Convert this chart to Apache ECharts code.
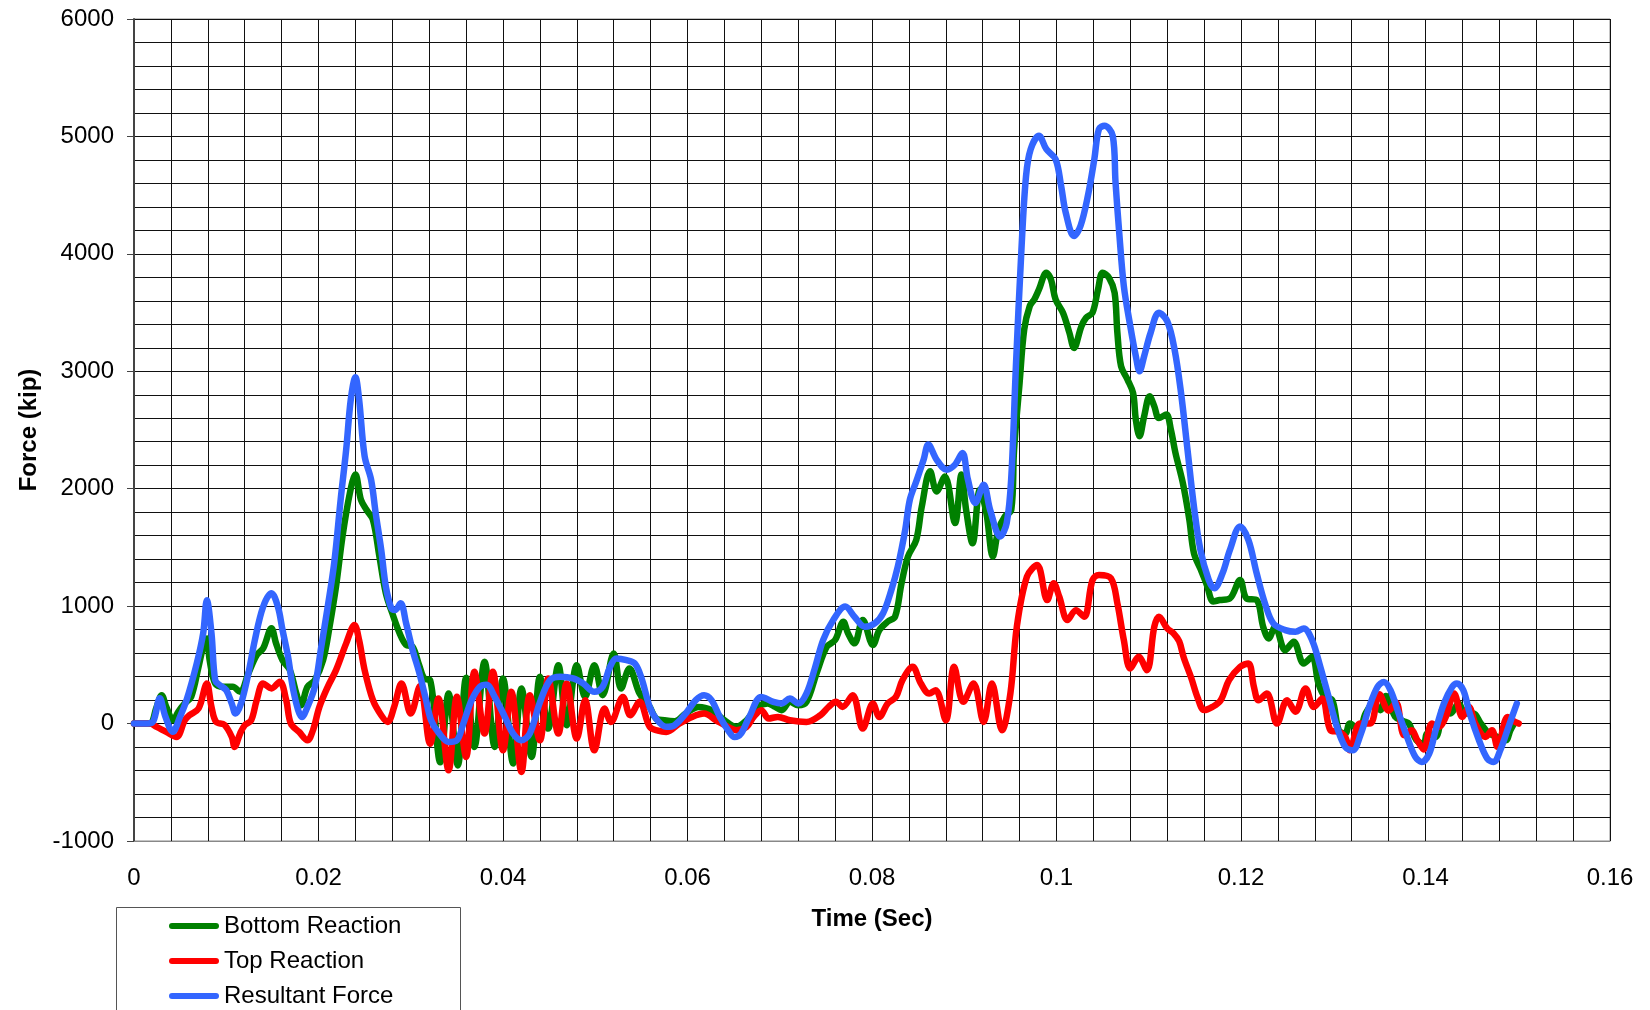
<!DOCTYPE html>
<html>
<head>
<meta charset="utf-8">
<script src="https://cdn.jsdelivr.net/npm/echarts@6/dist/echarts.min.js"></script>
<style>
html,body{margin:0;padding:0;background:#fff;}
#chart{width:1650px;height:1010px;}
</style>
</head>
<body>
<div id="chart"></div>
<script>
// ---- Data: [time (s), force (kip)] ----
const seriesNames = ['Bottom Reaction', 'Top Reaction', 'Resultant Force'];
const xTicks = [0, 0.02, 0.04, 0.06, 0.08, 0.1, 0.12, 0.14, 0.16];
const yTicks = [-1000, 0, 1000, 2000, 3000, 4000, 5000, 6000];

const bottomReaction = [
[0,0],[0.0017,0],[0.00245,142],[0.0030,242],[0.0035,142],[0.00425,28],[0.0048,100],[0.0055,171],[0.0062,228],[0.0070,484],[0.0075,654],[0.0079,725],[0.0082,540],[0.0088,341],[0.0097,313],[0.0107,313],[0.0115,270],[0.0124,427],[0.0133,583],[0.0140,640],[0.0149,811],[0.0154,683],[0.0161,540],[0.0169,455],[0.0176,256],[0.0181,156],[0.0188,313],[0.0196,370],[0.0205,540],[0.0212,825],[0.0219,1166],[0.0226,1593],[0.0234,1963],[0.0240,2120],[0.0246,1906],[0.0252,1821],[0.0259,1735],[0.0266,1423],[0.0273,1110],[0.0280,939],[0.0288,768],[0.0295,669],[0.0302,654],[0.0309,500],[0.0315,380],[0.0321,370],[0.0332,-330],[0.0341,256],[0.0351,-356],[0.0360,390],[0.0369,-199],[0.0380,526],[0.0391,-199],[0.0400,384],[0.0411,-341],[0.0420,299],[0.0431,-284],[0.0440,398],[0.0449,-43],[0.0460,497],[0.0469,-14],[0.0480,497],[0.0489,227],[0.0499,497],[0.0508,242],[0.0520,597],[0.0528,299],[0.0537,469],[0.0548,256],[0.0559,142],[0.0566,43],[0.0575,28],[0.0586,20],[0.0598,85],[0.0612,142],[0.0626,114],[0.0640,28],[0.0653,-28],[0.0664,28],[0.0676,142],[0.0687,171],[0.0695,142],[0.0702,114],[0.0711,185],[0.0720,156],[0.0729,185],[0.0740,430],[0.0751,654],[0.0760,711],[0.0769,868],[0.0774,768],[0.0781,683],[0.0790,882],[0.0801,669],[0.0808,797],[0.0817,868],[0.0825,910],[0.0832,1195],[0.0839,1423],[0.0848,1565],[0.0854,1849],[0.0863,2148],[0.0870,1977],[0.0879,2105],[0.0890,1707],[0.0897,2120],[0.0902,1821],[0.0909,1536],[0.0917,1992],[0.0924,1792],[0.0931,1422],[0.0937,1649],[0.0944,1763],[0.0951,1820],[0.0954,2332],[0.0960,2901],[0.0965,3356],[0.0971,3555],[0.0976,3612],[0.0981,3697],[0.0989,3839],[0.0994,3782],[0.0999,3612],[0.1007,3498],[0.1014,3327],[0.1019,3199],[0.1027,3384],[0.1032,3455],[0.1039,3498],[0.1045,3697],[0.1050,3839],[0.1057,3796],[0.1063,3669],[0.1066,3327],[0.1070,3043],[0.1077,2929],[0.1083,2815],[0.1086,2588],[0.1090,2446],[0.1095,2616],[0.1101,2787],[0.1106,2702],[0.1111,2602],[0.1119,2631],[0.1124,2502],[0.1129,2303],[0.1137,2047],[0.1144,1735],[0.1149,1450],[0.1157,1300],[0.1163,1180],[0.1170,1040],[0.1177,1052],[0.1188,1066],[0.1199,1223],[0.1206,1066],[0.1217,1052],[0.1224,825],[0.1230,725],[0.1237,825],[0.1248,625],[0.1257,697],[0.1268,512],[0.1277,569],[0.1284,341],[0.1291,227],[0.1299,199],[0.1306,-57],[0.1313,-85],[0.1318,0],[0.1328,-57],[0.1335,85],[0.1344,171],[0.1351,114],[0.1357,235],[0.1367,60],[0.1376,20],[0.1382,0],[0.1390,-140],[0.1398,-171],[0.1402,-85],[0.1411,-114],[0.1420,142],[0.1427,85],[0.1436,171],[0.1443,85],[0.1452,85],[0.1460,0],[0.1469,-85],[0.1478,-114],[0.1487,-142],[0.1492,-57],[0.1496,0]
];

const topReaction = [
[0,0],[0.0017,0],[0.00245,-28],[0.0035,-71],[0.0046,-114],[0.0055,28],[0.0060,71],[0.0070,128],[0.0077,313],[0.0079,341],[0.0084,142],[0.0089,14],[0.0098,-10],[0.0106,-114],[0.0109,-199],[0.0115,-85],[0.0120,-14],[0.0127,28],[0.0133,199],[0.0140,341],[0.0149,299],[0.0158,356],[0.0165,199],[0.0170,0],[0.0179,-71],[0.0188,-142],[0.0194,-57],[0.0201,142],[0.0210,313],[0.0219,455],[0.0230,683],[0.0239,839],[0.0244,711],[0.0250,455],[0.0259,199],[0.0268,71],[0.0275,14],[0.0282,142],[0.0290,341],[0.0300,85],[0.0310,320],[0.0321,-171],[0.0330,213],[0.0341,-398],[0.0350,228],[0.0360,-284],[0.0369,441],[0.0380,-85],[0.0389,441],[0.0400,-228],[0.0409,270],[0.0420,-412],[0.0429,242],[0.0440,-142],[0.0449,384],[0.0460,-85],[0.0469,341],[0.0480,-128],[0.0489,199],[0.0499,-228],[0.0510,128],[0.0517,14],[0.0530,227],[0.0538,71],[0.0548,185],[0.0559,-28],[0.0568,-60],[0.0577,-71],[0.0591,0],[0.0605,57],[0.0618,85],[0.0631,28],[0.0644,-28],[0.0653,-57],[0.0664,-28],[0.0672,60],[0.0680,114],[0.0688,43],[0.0698,57],[0.0711,28],[0.0729,14],[0.0744,71],[0.0753,142],[0.0761,185],[0.0768,142],[0.0779,242],[0.0790,-43],[0.0801,171],[0.0808,57],[0.0817,171],[0.0826,228],[0.0833,370],[0.0844,483],[0.0853,341],[0.0862,256],[0.0869,284],[0.0880,28],[0.0889,484],[0.0899,185],[0.0910,341],[0.0921,14],[0.0930,341],[0.0941,-57],[0.0950,256],[0.0957,825],[0.0968,1252],[0.0979,1350],[0.0990,1052],[0.0997,1194],[0.1003,1080],[0.1012,881],[0.1021,966],[0.1030,910],[0.1039,1222],[0.1046,1265],[0.1059,1237],[0.1066,1023],[0.1073,710],[0.1080,469],[0.1089,568],[0.1098,455],[0.1106,824],[0.1111,910],[0.1120,810],[0.1127,767],[0.1133,700],[0.1138,560],[0.1146,390],[0.1153,220],[0.1160,115],[0.1169,142],[0.1178,199],[0.1187,370],[0.1199,483],[0.1208,512],[0.1214,313],[0.1219,199],[0.1228,256],[0.1239,0],[0.1250,199],[0.1259,100],[0.1270,299],[0.1279,142],[0.1288,213],[0.1297,-57],[0.1306,-71],[0.1313,-114],[0.1318,-228],[0.1329,0],[0.1340,0],[0.1350,250],[0.1360,110],[0.1368,180],[0.1377,-100],[0.1385,-57],[0.1391,-140],[0.1398,-220],[0.1407,0],[0.1414,-28],[0.1422,57],[0.1431,256],[0.1440,57],[0.1447,142],[0.1454,0],[0.1465,-114],[0.1472,-57],[0.1478,-199],[0.1489,57],[0.1494,28],[0.1501,0]
];

const resultantForce = [
[0,0],[0.0015,0],[0.0021,20],[0.0028,215],[0.0034,60],[0.0042,-70],[0.0050,60],[0.0057,200],[0.0068,512],[0.0075,770],[0.0079,1050],[0.0084,768],[0.0088,370],[0.0093,327],[0.0100,285],[0.0106,170],[0.0110,85],[0.0116,170],[0.0124,427],[0.0131,711],[0.0140,995],[0.0149,1110],[0.0156,995],[0.0161,797],[0.0167,569],[0.0172,313],[0.0178,114],[0.0182,57],[0.0188,142],[0.0196,313],[0.0203,654],[0.0210,995],[0.0217,1366],[0.0224,1906],[0.0230,2333],[0.0235,2760],[0.0240,2950],[0.0244,2760],[0.0250,2276],[0.0257,2077],[0.0262,1792],[0.0268,1479],[0.0273,1166],[0.0279,981],[0.0283,967],[0.0289,1024],[0.0295,853],[0.0302,626],[0.0309,440],[0.0316,220],[0.0322,30],[0.0330,-75],[0.0341,-156],[0.0350,-142],[0.0357,0],[0.0366,199],[0.0375,313],[0.0382,330],[0.0391,228],[0.0402,57],[0.0411,-85],[0.0420,-142],[0.0429,-85],[0.0440,180],[0.0451,370],[0.0462,398],[0.0476,384],[0.0487,341],[0.0499,270],[0.0508,313],[0.0516,483],[0.0523,555],[0.0534,540],[0.0543,510],[0.0550,390],[0.0559,142],[0.0566,40],[0.0577,-28],[0.0586,-14],[0.0598,85],[0.0609,200],[0.0618,242],[0.0626,200],[0.0635,57],[0.0644,-57],[0.0651,-114],[0.0658,-85],[0.0667,57],[0.0680,227],[0.0693,185],[0.0702,171],[0.0711,213],[0.0720,171],[0.0729,256],[0.0738,470],[0.0747,711],[0.0758,882],[0.0771,996],[0.0781,910],[0.0792,825],[0.0803,853],[0.0812,939],[0.0821,1138],[0.0828,1337],[0.0836,1650],[0.0841,1906],[0.0848,2063],[0.0856,2248],[0.0861,2376],[0.0870,2248],[0.0881,2162],[0.0890,2205],[0.0898,2304],[0.0904,2077],[0.0912,1878],[0.0921,2034],[0.0928,1821],[0.0939,1593],[0.0946,1707],[0.0951,2100],[0.0956,3043],[0.0962,4038],[0.0967,4664],[0.0972,4891],[0.0981,5005],[0.0989,4891],[0.0999,4806],[0.1005,4579],[0.1010,4351],[0.1019,4152],[0.1026,4237],[0.1034,4493],[0.1041,4806],[0.1046,5062],[0.1052,5090],[0.1061,5005],[0.1064,4607],[0.1068,4180],[0.1073,3725],[0.1080,3384],[0.1086,3128],[0.1090,3000],[0.1095,3128],[0.1102,3327],[0.1111,3498],[0.1120,3427],[0.1128,3185],[0.1135,2815],[0.1142,2332],[0.1149,1848],[0.1156,1479],[0.1165,1223],[0.1171,1152],[0.1180,1280],[0.1188,1479],[0.1199,1678],[0.1208,1564],[0.1217,1279],[0.1226,1023],[0.1235,853],[0.1248,796],[0.1259,782],[0.1268,810],[0.1277,711],[0.1286,483],[0.1295,227],[0.1304,-28],[0.1313,-199],[0.1321,-228],[0.1330,-85],[0.1339,142],[0.1348,313],[0.1355,355],[0.1362,285],[0.1371,85],[0.1380,-114],[0.1389,-284],[0.1396,-327],[0.1404,-256],[0.1411,-57],[0.1420,171],[0.1429,313],[0.1434,341],[0.1441,284],[0.1448,85],[0.1458,-142],[0.1467,-299],[0.1474,-327],[0.1481,-228],[0.1490,-28],[0.1499,171]
];

const colors = ['#008000', '#FF0000', '#3366FF'];
const FONT = '"Liberation Sans", Arial, sans-serif';

const chart = echarts.init(document.getElementById('chart'), null, {renderer: 'canvas'});

const gridLine = {color: '#111', width: 1};

function makeLine(name, data, color) {
  return {
    name: name,
    type: 'line',
    xAxisIndex: 0,
    yAxisIndex: 0,
    data: data,
    smooth: 0.35,
    symbol: 'none',
    showSymbol: false,
    lineStyle: {color: color, width: 6.5, cap: 'round', join: 'round'},
    itemStyle: {color: color},
    clip: true
  };
}

chart.setOption({
  animation: false,
  backgroundColor: '#fff',
  color: colors,
  grid: {left: 134, top: 19, width: 1476, height: 822, containLabel: false, show: true, borderColor: '#888', borderWidth: 1},
  xAxis: [
    {
      type: 'value',
      min: xTicks[0], max: xTicks[xTicks.length - 1], interval: 0.02,
      position: 'bottom',
      axisLine: {show: true, onZero: false, lineStyle: {color: '#888', width: 1}},
      axisTick: {show: false},
      axisLabel: {show: true, margin: 25, color: '#000', fontSize: 24, fontFamily: FONT,
        formatter: function (v) { return String(Math.round(v * 1000) / 1000); }},
      splitLine: {show: true, lineStyle: gridLine},
      minorTick: {show: false, splitNumber: 5},
      minorSplitLine: {show: true, lineStyle: gridLine},
      name: 'Time (Sec)',
      nameLocation: 'middle',
      nameGap: 66,
      nameTextStyle: {color: '#000', fontSize: 24, fontWeight: 'bold', fontFamily: FONT}
    },
    {
      type: 'value',
      min: xTicks[0], max: xTicks[xTicks.length - 1], interval: 0.02,
      position: 'bottom',
      axisLine: {show: true, onZero: true, lineStyle: {color: '#000', width: 1}},
      axisTick: {show: true, length: 6, inside: false, lineStyle: {color: '#000', width: 1}},
      axisLabel: {show: false},
      splitLine: {show: false}
    }
  ],
  yAxis: {
    type: 'value',
    min: yTicks[0], max: yTicks[yTicks.length - 1], interval: 1000,
    axisLine: {show: true, lineStyle: {color: '#444', width: 2}},
    axisTick: {show: true, length: 7, lineStyle: {color: '#444', width: 1}},
    axisLabel: {margin: 20, color: '#000', fontSize: 24, fontFamily: FONT,
      formatter: function (v) { return String(v); }},
    splitLine: {show: true, lineStyle: gridLine},
    minorTick: {show: false, splitNumber: 5},
    minorSplitLine: {show: true, lineStyle: gridLine},
    name: 'Force (kip)',
    nameLocation: 'middle',
    nameGap: 93,
    nameRotate: 90,
    nameTextStyle: {color: '#000', fontSize: 24, fontWeight: 'bold', fontFamily: FONT}
  },
  legend: {
    show: true,
    orient: 'vertical',
    left: 169,
    top: 914,
    padding: 0,
    itemGap: 11,
    itemWidth: 50,
    itemHeight: 6,
    icon: 'path://M3,0 L47,0 A3,3 0 0 1 47,6 L3,6 A3,3 0 0 1 3,0 Z',
    data: seriesNames,
    textStyle: {color: '#000', fontSize: 24, fontFamily: FONT}
  },
  graphic: [
    {type: 'rect', left: 114, top: 905, shape: {width: 344, height: 200}, style: {fill: 'none', stroke: '#555', lineWidth: 1}, z: 0}
  ],
  series: [
    makeLine(seriesNames[0], bottomReaction, colors[0]),
    makeLine(seriesNames[1], topReaction, colors[1]),
    makeLine(seriesNames[2], resultantForce, colors[2])
  ]
});
</script>
</body>
</html>
